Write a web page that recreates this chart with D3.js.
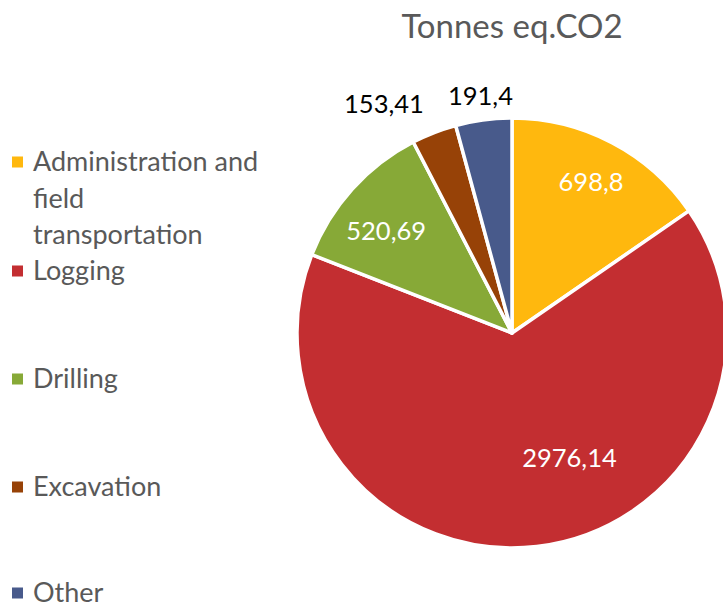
<!DOCTYPE html>
<html>
<head>
<meta charset="utf-8">
<script src="https://cdn.jsdelivr.net/npm/d3@7"></script>
<style>
  body { margin: 0; background: #fff; }
  text { font-family: Lato, "Open Sans", sans-serif; }
</style>
</head>
<body>
<div id="chart"></div>
<script>
'use strict';

// data
var categories = ["Administration and field transportation", "Logging", "Drilling", "Excavation", "Other"];
var values = [698.8, 2976.14, 520.69, 153.41, 191.4];
var valueLabels = ["698,8", "2976,14", "520,69", "153,41", "191,4"];
var colors = ["#FFB80E", "#C32E31", "#87A937", "#974207", "#485A8B"];
var legendLines = [["Administration and", "field", "transportation"], ["Logging"], ["Drilling"], ["Excavation"], ["Other"]];

var width = 723, height = 604;
var cx = 512, cy = 333, radius = 215;

// label placement: angle shift (deg) and distance from the centre
var labelShift = [0, -18, -3, -8, 0];
var labelDist = [170, 138, 162, 262, 239];
var labelColor = ["#fff", "#fff", "#fff", "#000", "#000"];

var svg = d3.select("#chart")
  .append("svg")
    .attr("width", width)
    .attr("height", height);

svg.append("text")
  .attr("x", cx)
  .attr("y", 38)
  .attr("text-anchor", "middle")
  .attr("font-size", 33)
  .attr("fill", "#595959")
  .text("Tonnes eq.CO2");

var data = categories.map(function(c, i) { return {name: c, value: values[i], i: i}; });

var pie = d3.pie()
  .sort(null)
  .value(function(d) { return d.value; });

var arc = d3.arc()
  .innerRadius(0)
  .outerRadius(radius);

var g = svg.append("g")
  .attr("transform", "translate(" + cx + "," + cy + ")");

var arcs = pie(data);

g.selectAll("path")
  .data(arcs)
  .enter()
  .append("path")
    .attr("d", arc)
    .attr("fill", function(d) { return colors[d.data.i]; })
    .attr("stroke", "#fff")
    .attr("stroke-width", 3.5)
    .attr("stroke-linejoin", "round");

g.selectAll("text.lbl")
  .data(arcs)
  .enter()
  .append("text")
    .attr("class", "lbl")
    .attr("transform", function(d) {
      var a = (d.startAngle + d.endAngle) / 2 + labelShift[d.data.i] * Math.PI / 180;
      var r = labelDist[d.data.i];
      return "translate(" + (Math.sin(a) * r) + "," + (-Math.cos(a) * r) + ")";
    })
    .attr("text-anchor", "middle")
    .attr("dy", "0.35em")
    .attr("font-size", 25.5)
    .attr("fill", function(d) { return labelColor[d.data.i]; })
    .text(function(d) { return valueLabels[d.data.i]; });

// legend
var legendY = [162, 271, 379, 487, 593];
var lineH = 36.5;

var leg = svg.selectAll("g.leg")
  .data(data)
  .enter()
  .append("g")
    .attr("class", "leg")
    .attr("transform", function(d) { return "translate(0," + legendY[d.i] + ")"; });

leg.append("rect")
  .attr("x", 12)
  .attr("y", -5.5)
  .attr("width", 11)
  .attr("height", 11)
  .attr("fill", function(d) { return colors[d.i]; });

leg.each(function(d) {
  var t = d3.select(this).append("text")
    .attr("x", 33)
    .attr("y", 0)
    .attr("font-size", 27)
    .attr("fill", "#595959");
  legendLines[d.i].forEach(function(line, k) {
    t.append("tspan")
      .attr("x", 33)
      .attr("y", k * lineH)
      .attr("dy", "0.35em")
      .text(line);
  });
});
</script>
</body>
</html>
